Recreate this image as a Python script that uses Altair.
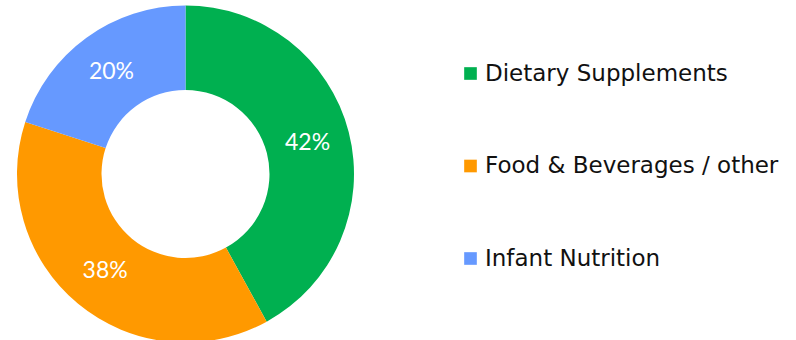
import altair as alt
import pandas as pd

categories = ["Dietary Supplements", "Food & Beverages / other", "Infant Nutrition"]
shares = [42, 38, 20]
labels = ["42%", "38%", "20%"]
colors = ["#00B050", "#FF9900", "#6699FF"]

df = pd.DataFrame({
    "category": categories,
    "share": shares,
    "label": labels,
    "idx": list(range(len(categories))),
})

cx, cy = 185.5, 174

base = alt.Chart(df).encode(
    theta=alt.Theta("share:Q", stack=True),
    order=alt.Order("idx:Q"),
    x=alt.value(cx),
    y=alt.value(cy),
)

arcs = base.mark_arc(innerRadius=84, outerRadius=168.5, stroke=None).encode(
    color=alt.Color(
        "category:N",
        scale=alt.Scale(domain=categories, range=colors),
        sort=categories,
        legend=alt.Legend(
            title=None,
            orient="none",
            legendX=459,
            legendY=62,
            symbolType="square",
            symbolSize=160,
            symbolStrokeWidth=0,
            labelFont="DejaVu Sans",
            labelFontSize=23,
            labelColor="#111111",
            labelOffset=3,
            rowPadding=68.5,
            labelLimit=400,
            padding=0,
        ),
    )
)

text = base.mark_text(
    radius=126,
    font="Lato",
    fontSize=23,
    color="white",
    align="center",
    baseline="middle",
).encode(text="label:N")

chart = alt.layer(arcs, text).properties(
    width=796, height=340, padding=0, background="white",
    autosize=alt.AutoSizeParams(type="none"),
).configure_view(stroke=None)

chart.save("out.html", embed_options={"renderer": "svg", "actions": False})
